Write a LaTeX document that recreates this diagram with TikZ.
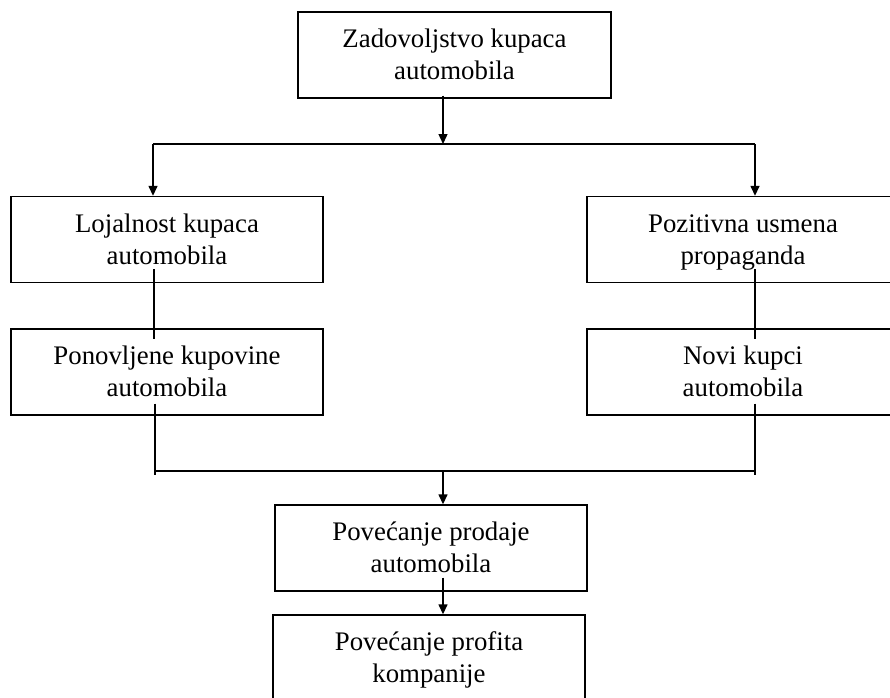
\documentclass[tikz,border=0pt]{standalone}
\usepackage{fontspec}
\setmainfont{Liberation Serif}
\usetikzlibrary{arrows.meta,calc}
\newcommand\myTop{\rule{0pt}{24.5pt}}
\newcommand\myBot{\rule[-7.5pt]{0pt}{7.5pt}}
\begin{document}
\begin{tikzpicture}[x=1pt,y=-1pt,
  box/.style={draw, line width=1.4pt, minimum width=312pt, minimum height=86pt,
    align=center, inner sep=0pt, font=\fontsize{26.8}{32}\selectfont},
  conn/.style={line width=1.4pt},
  arr/.style={conn, -{Triangle[length=10pt,width=9pt]}}]
\useasboundingbox (0,0) rectangle (890,697);
\clip (0,0) rectangle (890,697);
\node[box, minimum width=313pt] (top) at (454.5,55) {\myTop Zadovoljstvo kupaca\\automobila\myBot};
\node[box] (L1) at (167,239.5) {\myTop Lojalnost kupaca\\automobila\myBot};
\node[box] (R1) at (743,239.5) {\myTop Pozitivna usmena\\propaganda\myBot};
\node[box] (L2) at (167,372) {\myTop Ponovljene kupovine\\automobila\myBot};
\node[box] (R2) at (743,372) {\myTop Novi kupci\\automobila\myBot};
\node[box] (B1) at (431,548) {\myTop Povećanje prodaje\\automobila\myBot};
\node[box] (B2) at (429,658) {\myTop Povećanje profita\\kompanije\myBot};
\coordinate (j) at (443,144);
\coordinate (jl) at (153,144);
\coordinate (jr) at (755,144);
\coordinate (kl) at (155,471);
\coordinate (kr) at (755,471);
\coordinate (k) at (443,471);
\draw[arr] ($(top.south -| j)+(0,-3)$) -- (j);
\draw[conn] (jl) -- (jr);
\draw[arr] (jl) -- (L1.north -| jl);
\draw[arr] (jr) -- (R1.north -| jr);
\draw[conn] ($(L1.south -| jl)+(1,-14)$) -- ($(L2.north -| jl)+(1,11)$);
\draw[conn] ($(R1.south -| jr)+(0,-14)$) -- ($(R2.north -| jr)+(0,11)$);
\draw[conn] ($(L2.south -| kl)+(0,-12)$) -- ($(kl)+(0,4)$);
\draw[conn] ($(R2.south -| kr)+(0,-12)$) -- ($(kr)+(0,4)$);
\draw[conn] (kl) -- (kr);
\draw[arr] (k) -- (B1.north -| k);
\draw[arr] ($(B1.south -| k)+(0,-14)$) -- (B2.north -| k);
\end{tikzpicture}
\end{document}
